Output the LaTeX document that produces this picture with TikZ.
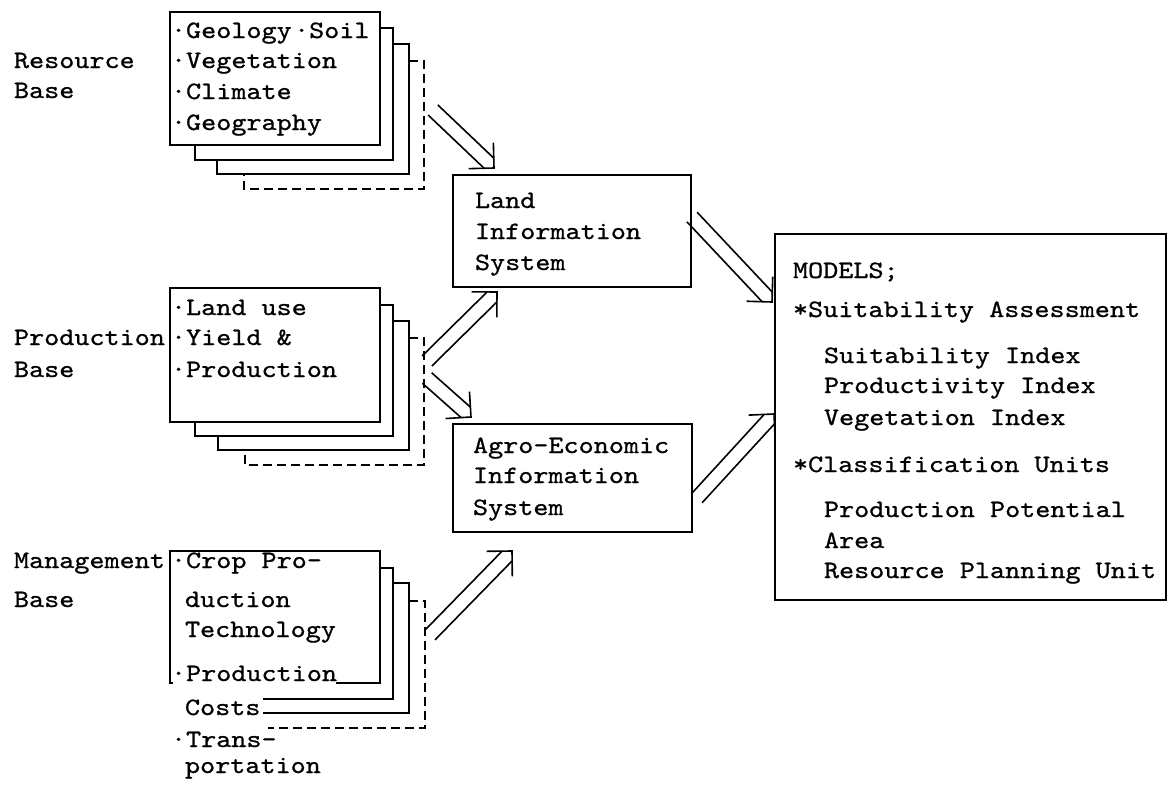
\documentclass[tikz,border=0pt]{standalone}
\usepackage{graphicx}
\usepackage{fontspec}
\setmonofont{lmmono10-regular}[Extension=.otf, FakeBold=0.7]
\usetikzlibrary{calc}
\newcommand{\stretchtxt}[1]{\scalebox{1.15}[1]{#1}}
\newcommand{\dblarrow}[2]{%
  \coordinate (hw) at ($(#2)!7pt!(#1)$);
  \coordinate (hh) at ($(#2)!18pt!(#1)$);
  \draw[ln] ($(#1)!7pt!90:(#2)$) -- ($(hw)!7pt!90:(#2)$);
  \draw[ln] ($(#1)!7pt!-90:(#2)$) -- ($(hw)!7pt!-90:(#2)$);
  \draw[ln] ($(hh)!18pt!90:(#2)$) -- (#2) -- ($(hh)!18pt!-90:(#2)$);
}
\tikzset{
  ln/.style={line width=1.6pt, line join=miter, line cap=butt},
  boxn/.style={draw, ln, inner sep=0pt, outer sep=0pt},
  dashedln/.style={ln, dash pattern=on 9pt off 5pt},
  txt/.style={anchor=base west, inner sep=0pt, outer sep=0pt, font=\ttfamily\fontsize{25}{30}\selectfont},
}
\begin{document}
\begin{tikzpicture}[x=1pt,y=-1pt]
\useasboundingbox[fill=white] (0,0) rectangle (1168,798);

% ---------- Resource base stack ----------
\node[boxn, minimum width=210pt, minimum height=133pt] (resA) at (275,78.5) {};
\draw[ln] (380,28) -| (393,160) -| (195,145);
\draw[ln] (393,44) -| (409,174) -| (217,160);
\draw[dashedln] (409,61) -| (424,189) -| (244,174);
\node[txt] (resl1) at (14,68) {\stretchtxt{Resource}};
\node[txt] (resl2) at (14,98) {\stretchtxt{Base}};
\node[txt] (res1) at (171,38) {\stretchtxt{·Geology\kern2pt·Soil}};
\node[txt] (res2) at (171,68) {\stretchtxt{·Vegetation}};
\node[txt] (res3) at (171,99) {\stretchtxt{·Climate}};
\node[txt] (res4) at (171,130) {\stretchtxt{·Geography}};

% ---------- Production base stack ----------
\node[boxn, minimum width=210pt, minimum height=134pt] (proA) at (275,355) {};
\draw[ln] (380,305) -| (393,436) -| (195,422);
\draw[ln] (393,321) -| (409,450) -| (218,436);
\draw[dashedln] (409,338) -| (424,465) -| (245,450);
\node[txt] (prol1) at (14,345) {\stretchtxt{Production}};
\node[txt] (prol2) at (14,377) {\stretchtxt{Base}};
\node[txt] (pro1) at (171,315) {\stretchtxt{·Land use}};
\node[txt] (pro2) at (171,345) {\stretchtxt{·Yield \&}};
\node[txt] (pro3) at (171,377) {\stretchtxt{·Production}};

% ---------- Management base stack ----------
\node[inner sep=0pt, outer sep=0pt, minimum width=210pt, minimum height=132pt] (manA) at (275,617) {};
\draw[ln] (336,683) -- (manA.south east) -- (manA.north east) -- (manA.north west) -- (manA.south west) -- ++(3,0);
\draw[ln] (380,568) -| (393,699) -- (263,699);
\draw[ln] (393,583) -| (409,713) -- (263,713);
\draw[dashedln] (409,601) -| (425,728) -- (268,728);
\node[txt] (manl1) at (14,568) {\stretchtxt{Management}};
\node[txt] (manl2) at (14,607) {\stretchtxt{Base}};
\node[txt] (man1) at (171,568) {\stretchtxt{·Crop Pro-}};
\node[txt] (man2) at (185,607) {\stretchtxt{duction}};
\node[txt] (man3) at (185,637) {\stretchtxt{Technology}};
\node[txt] (man4) at (171,681) {\stretchtxt{·Production}};
\node[txt] (man5) at (185,715) {\stretchtxt{Costs}};
\node[txt] (man6) at (171,747) {\stretchtxt{·Trans-}};
\node[txt] (man7) at (185,773) {\stretchtxt{portation}};

% ---------- Information systems ----------
\node[boxn, minimum width=238pt, minimum height=112pt] (lis) at (572,231) {};
\node[txt] (lis1) at (475,208) {\stretchtxt{Land}};
\node[txt] (lis2) at (475,239) {\stretchtxt{Information}};
\node[txt] (lis3) at (475,270) {\stretchtxt{System}};

\node[boxn, minimum width=239pt, minimum height=108pt] (aeis) at (572.5,478) {};
\node[txt] (ae1) at (473,453) {\stretchtxt{Agro-Economic}};
\node[txt] (ae2) at (473,483) {\stretchtxt{Information}};
\node[txt] (ae3) at (473,515) {\stretchtxt{System}};

% ---------- Models ----------
\node[boxn, minimum width=391pt, minimum height=366pt] (models) at (970.5,417) {};
\node[txt] (m1) at (793,278) {\stretchtxt{MODELS;}};
\node[txt] (m2) at (793,317) {\stretchtxt{*Suitability Assessment}};
\node[txt] (m3) at (824,363) {\stretchtxt{Suitability Index}};
\node[txt] (m4) at (824,393) {\stretchtxt{Productivity Index}};
\node[txt] (m5) at (824,425) {\stretchtxt{Vegetation Index}};
\node[txt] (m6) at (793,472) {\stretchtxt{*Classification Units}};
\node[txt] (m7) at (824,517) {\stretchtxt{Production Potential}};
\node[txt] (m8) at (824,548) {\stretchtxt{Area}};
\node[txt] (m9) at (824,578) {\stretchtxt{Resource Planning Unit}};

% ---------- Arrows ----------
\coordinate (a1s) at (433,110); \coordinate (a1e) at (494,168);
\coordinate (a2s) at (427,361); \coordinate (a2e) at (497,292);
\coordinate (a3s) at (427,378); \coordinate (a3e) at (471,417);
\coordinate (a4s) at (430,635); \coordinate (a4e) at (512,551);
\coordinate (a5s) at (692,217); \coordinate (a5e) at (772,302);
\coordinate (a6s) at (697,498); \coordinate (a6e) at (774,414);
\dblarrow{a1s}{a1e}
\dblarrow{a2s}{a2e}
\dblarrow{a3s}{a3e}
\dblarrow{a4s}{a4e}
\dblarrow{a5s}{a5e}
\dblarrow{a6s}{a6e}
\end{tikzpicture}
\end{document}
